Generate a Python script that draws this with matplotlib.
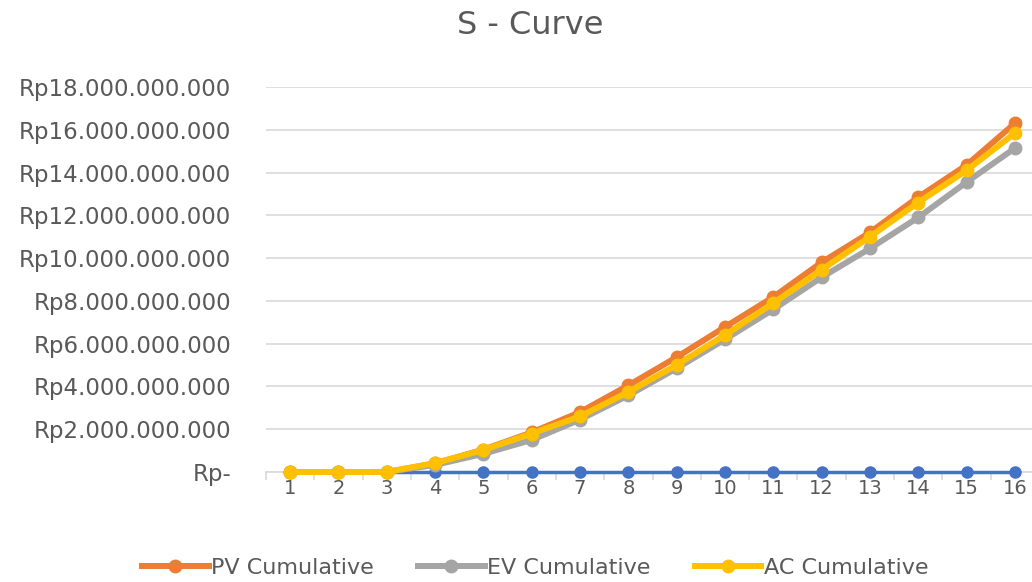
import matplotlib
matplotlib.use("Agg")
import matplotlib.pyplot as plt
from matplotlib.ticker import FuncFormatter, MultipleLocator

periods = list(range(1, 17))
pv_cum = [0, 0, 0, 0.40e9, 1.05e9, 1.85e9, 2.80e9, 4.05e9, 5.37e9, 6.78e9,
          8.18e9, 9.80e9, 11.20e9, 12.85e9, 14.35e9, 16.30e9]
ev_cum = [0, 0, 0, 0.33e9, 0.85e9, 1.50e9, 2.45e9, 3.58e9, 4.85e9, 6.20e9,
          7.60e9, 9.10e9, 10.45e9, 11.90e9, 13.55e9, 15.14e9]
ac_cum = [0, 0, 0, 0.42e9, 1.03e9, 1.80e9, 2.60e9, 3.74e9, 5.00e9, 6.40e9,
          7.90e9, 9.45e9, 11.00e9, 12.60e9, 14.10e9, 15.84e9]
base = [0] * 16

fig = plt.figure(figsize=(10.32, 5.82), dpi=100)
ax = fig.add_axes([266/1032, 1-472/582, (1039-266)/1032, (472-87)/582])

ax.plot(periods, base, color="#4472C4", lw=2.5, marker="o", ms=8, zorder=3, clip_on=False, label="_nolegend_")
ax.plot(periods, pv_cum, color="#ED7D31", lw=4.3, marker="o", ms=9, zorder=4, clip_on=False, label="PV Cumulative")
ax.plot(periods, ev_cum, color="#A5A5A5", lw=4.3, marker="o", ms=9, zorder=5, clip_on=False, label="EV Cumulative")
ax.plot(periods, ac_cum, color="#FFC000", lw=4.3, marker="o", ms=9, zorder=6, clip_on=False, label="AC Cumulative")

ax.set_xlim(0.5, 16.5)
ax.set_ylim(0, 18e9)
ax.yaxis.set_major_locator(MultipleLocator(2e9))

def rp(v, pos):
    if v == 0:
        return "Rp-"
    s = f"{int(round(v)):,}".replace(",", ".")
    return "Rp" + s
ax.yaxis.set_major_formatter(FuncFormatter(rp))
ax.set_xticks(periods)
ax.set_xticklabels([str(p) for p in periods])
ax.set_xticks([p + 0.5 for p in range(0, 17)], minor=True)

ax.grid(axis="y", color="#D9D9D9", lw=1.2, zorder=0)
for s in ["top", "right", "left"]:
    ax.spines[s].set_visible(False)
ax.spines["bottom"].set_color("#D9D9D9")
ax.spines["bottom"].set_linewidth(1.2)
ax.tick_params(axis="y", length=0, pad=25, labelsize=16.5, labelcolor="#595959")
ax.tick_params(axis="x", which="major", length=0, pad=5, labelsize=14, labelcolor="#595959")
ax.tick_params(axis="x", which="minor", length=6, color="#D9D9D9", width=1.2)
ax.set_axisbelow(True)

fig.text(530/1032, 1-25/582, "S - Curve", ha="center", va="center", fontsize=23, color="#595959")

leg = fig.legend(loc="center", bbox_to_anchor=(535/1032, 1-568/582), ncol=3, frameon=False,
                 handlelength=3.0, columnspacing=2.0, handletextpad=0.1,
                 labelcolor="#595959", prop={"size": 16})

fig.savefig("out.png", dpi=100)
